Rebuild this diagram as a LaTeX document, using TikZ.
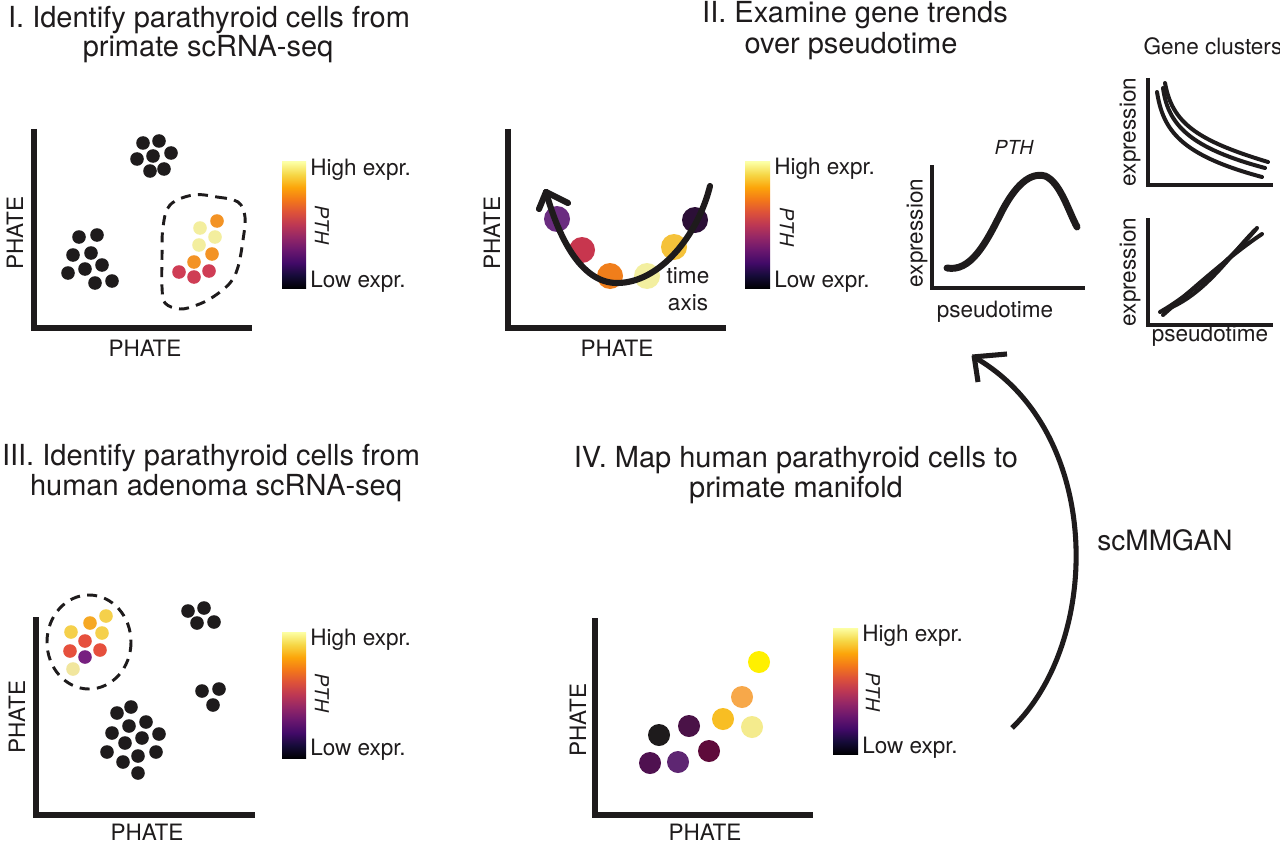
\documentclass[tikz,border=0pt]{standalone}
\usepackage{fontspec}
\setmainfont{TeX Gyre Heros}
\usetikzlibrary{arrows.meta}
\definecolor{ink}{HTML}{1E1B1C}
\definecolor{inf0}{HTML}{000004}
\definecolor{inf1}{HTML}{160B39}
\definecolor{inf2}{HTML}{420A68}
\definecolor{inf3}{HTML}{6A176E}
\definecolor{inf4}{HTML}{932667}
\definecolor{inf5}{HTML}{BC3754}
\definecolor{inf6}{HTML}{DD513A}
\definecolor{inf7}{HTML}{F37819}
\definecolor{inf8}{HTML}{FCA50A}
\definecolor{inf9}{HTML}{F6D746}
\definecolor{inf10}{HTML}{FCFFA4}
% panel I
\definecolor{paleA}{HTML}{F3EE9E}
\definecolor{orangeA}{HTML}{F39325}
\definecolor{crimsonA}{HTML}{CF3D55}
% panel II
\definecolor{purpleB}{HTML}{6A2C80}
\definecolor{crimsonB}{HTML}{C8364E}
\definecolor{orangeB}{HTML}{F07E1B}
\definecolor{paleB}{HTML}{F3EFA0}
\definecolor{goldB}{HTML}{F5C23A}
\definecolor{darkB}{HTML}{2C0F37}
% panel III
\definecolor{yelC}{HTML}{F5D04B}
\definecolor{oraC}{HTML}{F6A824}
\definecolor{redC}{HTML}{E6503D}
\definecolor{purC}{HTML}{772080}
\definecolor{paleC}{HTML}{F1E69E}
% panel IV
\definecolor{yelD}{HTML}{FFF000}
\definecolor{lorD}{HTML}{F7A84A}
\definecolor{goldD}{HTML}{F8BE23}
\definecolor{paleD}{HTML}{F4EB8D}
\definecolor{dpaD}{HTML}{4A1247}
\definecolor{marD}{HTML}{5E0B3A}
\definecolor{dpbD}{HTML}{4F1150}
\definecolor{purD}{HTML}{5E2672}
\pgfdeclareverticalshading{inferno}{100bp}{color(0bp)=(inf0); color(25bp)=(inf0); color(30bp)=(inf1); color(35bp)=(inf2); color(40bp)=(inf3); color(45bp)=(inf4); color(50bp)=(inf5); color(55bp)=(inf6); color(60bp)=(inf7); color(65bp)=(inf8); color(70bp)=(inf9); color(75bp)=(inf10); color(100bp)=(inf10)}
\tikzset{
  axisline/.style={draw=ink, line width=3.8pt, line cap=butt, line join=miter},
  smallaxis/.style={draw=ink, line width=3.6pt, line cap=butt, line join=miter},
  lbl/.style={font=\fontsize{16.9pt}{18pt}\selectfont, text=ink, inner sep=0pt},
  ttl/.style={font=\fontsize{21.75pt}{24pt}\selectfont, text=ink, inner sep=0pt, anchor=base},
  ptl/.style={font=\fontsize{14.5pt}{16pt}\selectfont\itshape, text=ink, inner sep=0pt},
  outlinedash/.style={draw=ink, line width=2.2pt, dash pattern=on 7.5pt off 5.5pt},
  cbar/.style={shading=inferno},
  trend/.style={draw=ink, line width=3pt, line cap=round},
  headline/.style={draw=ink, line cap=round},
}
\begin{document}
\begin{tikzpicture}[x=0.75pt,y=-0.75pt]
\useasboundingbox (0,0) rectangle (1280,845);
\fill[white] (0,0) rectangle (1280,845);

% ================= Panel I =================
\node[ttl] (t1a) at (209,28) {I. Identify parathyroid cells from};
\node[ttl] (t1b) at (208,57) {primate scRNA-seq};
\draw[axisline] (34,129) -- (34,328) -- (252,328);
\node[lbl, rotate=90] (y1) at (15,233) {PHATE};
\node[lbl] (x1) at (145,348) {PHATE};
\foreach \p in {(143,143),(159,141),(137,159),(153,156),(171,153),(150,171),(164,169),
                (79,237),(97,235),(73,255),(91,253),(68,273),(85,269),(102,265),(95,283),(112,281)}
  \fill[ink] \p circle[radius=6.8];
\foreach \p/\c in {(200,228)/paleA,(217,221)/orangeA,(215,237)/paleA,(199,245)/paleA,(212,254)/orangeA,
                   (194,262)/orangeA,(179,272)/crimsonA,(194,277)/crimsonA,(209,271)/crimsonA}
  \fill[\c] \p circle[radius=6.8];
\draw[outlinedash] plot[smooth cycle, tension=0.6] coordinates {(193,195) (217,197) (238,202) (245,217) (243,240) (238,267) (230,283) (213,297) (197,305) (180,309) (165,303) (162,287) (162,257) (163,227) (170,205)};
\shade[cbar] (282,162) rectangle (306,288);
\node[lbl, anchor=west] (h1) at (310,170) {High expr.};
\node[lbl, anchor=west] (l1) at (310,282) {Low expr.};
\node[ptl, rotate=-90] (p1) at (322,225) {PTH};

% ================= Panel II =================
\node[ttl] (t2a) at (855,23) {II. Examine gene trends};
\node[ttl] (t2b) at (851,54) {over pseudotime};
\draw[axisline] (508,129) -- (508,328) -- (726,328);
\node[lbl, rotate=90] (y2) at (492,233) {PHATE};
\node[lbl] (x2) at (617,348) {PHATE};
\foreach \p/\c in {(557,219)/purpleB,(582,250)/crimsonB,(610,276)/orangeB,(647,276)/paleB,(674,247)/goldB,(695,220)/darkB}
  \fill[\c] \p circle[radius=13];
\coordinate (tStart) at (710,186);
\coordinate (tLow) at (617,283);
\coordinate (tEnd) at (546,192);
\draw[ink, line width=4.6pt, line cap=round]
  (tStart) .. controls (698,235) and (660,283) .. (tLow) .. controls (580,283) and (558,235) .. (tEnd);
\draw[headline, line width=4.6pt] (tEnd) -- (568,203);
\draw[headline, line width=4.6pt] (tEnd) -- (539,209);
\node[lbl] (time) at (688,276) {time};
\node[lbl] (axis) at (688,303) {axis};
\shade[cbar] (745,162) rectangle (770,288);
\node[lbl, anchor=west] (h2) at (774,169) {High expr.};
\node[lbl, anchor=west] (l2) at (774,282) {Low expr.};
\node[ptl, rotate=-90] (p2) at (787,227) {PTH};

% PTH trend
\node[ptl] (pthT) at (1014,147) {PTH};
\draw[smallaxis] (932,165) -- (932,288) -- (1085,288);
\node[lbl, rotate=90] (e0) at (917,233) {expression};
\node[lbl] (s0) at (995,312) {pseudotime};
\draw[ink, line width=5.2pt, line cap=round] (947,268) .. controls (970,272) and (985,245) .. (1000,215)
  .. controls (1015,185) and (1030,172) .. (1045,176) .. controls (1060,182) and (1068,210) .. (1077,227);

% Gene clusters
\node[lbl] (gc) at (1213,46) {Gene clusters};
\draw[smallaxis] (1148,78) -- (1148,185) -- (1273,185);
\node[lbl, rotate=90] (e1) at (1130,132) {expression};
\draw[trend] (1157,92) .. controls (1163,130) and (1180,155) .. (1262,177);
\draw[trend] (1163,88) .. controls (1168,125) and (1190,148) .. (1265,168);
\draw[trend] (1165,83) .. controls (1172,122) and (1195,140) .. (1268,162);
\draw[smallaxis] (1148,218) -- (1148,325) -- (1273,325);
\node[lbl, rotate=90] (e2) at (1130,272) {expression};
\node[lbl] (s2) at (1210,336) {pseudotime};
\draw[trend] (1160,312) .. controls (1190,295) and (1230,260) .. (1257,228);
\draw[trend] (1163,315) .. controls (1200,282) and (1235,252) .. (1262,234);
\draw[trend] (1165,310) .. controls (1205,295) and (1230,255) .. (1255,230);

% ================= Panel III =================
\node[ttl] (t3a) at (211,465) {III. Identify parathyroid cells from};
\node[ttl] (t3b) at (216,495) {human adenoma scRNA-seq};
\draw[axisline] (36,617) -- (36,815) -- (255,815);
\node[lbl, rotate=90] (y3) at (17,717) {PHATE};
\node[lbl] (x3) at (147,832) {PHATE};
\foreach \p in {(188,611),(204,608),(197,623),(214,622),(202,691),(219,689),(213,705),
  (131,707),(117,713),(129,726),(146,722),(112,733),(125,743),(142,738),(159,734),(107,752),(123,762),(138,756),(156,752),(138,773)}
  \fill[ink] \p circle[radius=6.8];
\foreach \p/\c in {(106,616)/yelC,(90,623)/oraC,(71,632)/yelC,(102,633)/yelC,(85,641)/redC,(70,651)/redC,(100,650)/redC,(85,657)/purC,(73,669)/paleC}
  \fill[\c] \p circle[radius=6.8];
\draw[outlinedash] (89,642) ellipse[x radius=42, y radius=47];
\shade[cbar] (282,632) rectangle (306,758);
\node[lbl, anchor=west] (h3) at (310,640) {High expr.};
\node[lbl, anchor=west] (l3) at (310,750) {Low expr.};
\node[ptl, rotate=-90] (p3) at (322,693) {PTH};

% ================= Panel IV =================
\node[ttl] (t4a) at (796,467) {IV. Map human parathyroid cells to};
\node[ttl] (t4b) at (796,497) {primate manifold};
\draw[axisline] (595,618) -- (595,815) -- (813,815);
\node[lbl, rotate=90] (y4) at (578,720) {PHATE};
\node[lbl] (x4) at (705,832) {PHATE};
\foreach \p/\c in {(759,662)/yelD,(742,697)/lorD,(723,719)/goldD,(752,727)/paleD,(659,735)/ink,(689,726)/dpaD,(709,751)/marD,(650,763)/dpbD,(678,762)/purD}
  \fill[\c] \p circle[radius=11];
\shade[cbar] (833,628) rectangle (858,754);
\node[lbl, anchor=west] (h4) at (862,636) {High expr.};
\node[lbl, anchor=west] (l4) at (862,748) {Low expr.};
\node[ptl, rotate=-90] (p4) at (873,692) {PTH};

% ================= scMMGAN arrow =================
\coordinate (mapStart) at (1012,728);
\coordinate (mapEnd) at (974,357);
\draw[ink, line width=3.8pt]
  (mapStart) .. controls (1103,640) and (1103,430) .. (mapEnd);
\draw[headline, line width=3.8pt, line cap=butt] ([xshift=-1.2pt]mapEnd) -- (1007,354);
\draw[headline, line width=3.8pt, line cap=butt] ([yshift=1.2pt]mapEnd) -- (978,382);
\node[font=\fontsize{21pt}{23pt}\selectfont, text=ink, inner sep=0pt] (gan) at (1165,540) {scMMGAN};
\end{tikzpicture}
\end{document}
